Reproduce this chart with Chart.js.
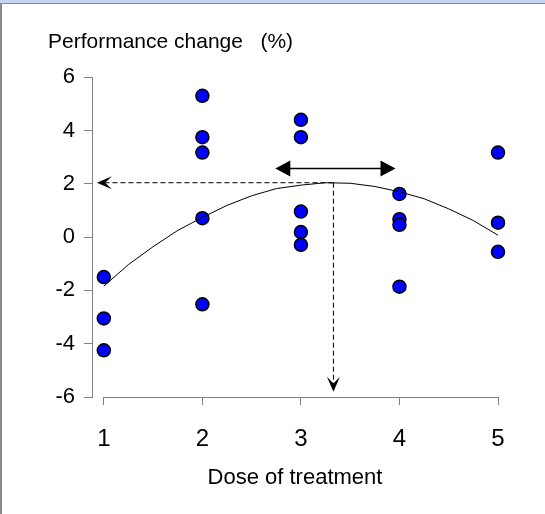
<!DOCTYPE html>
<html>
<head>
<meta charset="utf-8">
<script src="https://cdn.jsdelivr.net/npm/chart.js@4.4.0/dist/chart.umd.min.js"></script>
<style>
  body { margin: 0; background: #fff; }
  #band { position: absolute; left: 0; top: 0; width: 545px; height: 3px; background: #c8d2f2; }
  #topline { position: absolute; left: 0; top: 3px; width: 545px; height: 1px; background: #8a8a8a; }
  #leftline { position: absolute; left: 0; top: 4px; width: 2px; height: 510px; background: #8a8a8a; }
  #wrap { position: absolute; left: 0; top: 0; width: 545px; height: 514px; }
</style>
</head>
<body>
<div id="band"></div>
<div id="topline"></div>
<div id="leftline"></div>
<div id="wrap"><canvas id="myChart" width="545" height="514"></canvas></div>
<script>
'use strict';

// observed doses and performance changes (%)
var doses = [1, 1, 1, 2, 2, 2, 2, 2, 3, 3, 3, 3, 3, 4, 4, 4, 4, 5, 5, 5];
var changes = [-1.5, -3.05, -4.25, 5.3, 3.75, 3.17, 0.71, -2.52, 4.4, 3.75, 0.96, 0.19, -0.29, 1.62, 0.67, 0.46, -1.86, 3.17, 0.54, -0.55];

// fitted curve
var curveDose = [1, 1.25, 1.5, 1.75, 2, 2.25, 2.5, 2.75, 3, 3.25, 3.5, 3.75, 4, 4.25, 4.5, 4.75, 5];
var curveChange = [-1.84, -1.03, -0.36, 0.25, 0.74, 1.19, 1.55, 1.82, 1.95, 2.04, 2.02, 1.9, 1.7, 1.44, 1.06, 0.62, 0.07];

var xTicks = [1, 2, 3, 4, 5];
var yTicks = [-6, -4, -2, 0, 2, 4, 6];

// annotation anchors (data units)
var optimum = [3.33, 2.04];        // dose, change at peak
var guideEnd = [0.93, -5.8];       // left end of horizontal guide, bottom end of vertical guide
var rangeArrow = [2.74, 3.96, 2.57]; // from dose, to dose, level

var points = doses.map(function (d, i) { return { x: d, y: changes[i] }; });
var curve = curveDose.map(function (d, i) { return { x: d, y: curveChange[i] }; });

function arrowHead(c, x, y, angle, len, half, notch) {
  c.save();
  c.translate(x, y);
  c.rotate(angle);
  c.beginPath();
  c.moveTo(0, 0);
  c.lineTo(-len, -half);
  c.lineTo(-len * notch, 0);
  c.lineTo(-len, half);
  c.closePath();
  c.fillStyle = '#000';
  c.fill();
  c.restore();
}

var annotations = {
  id: 'annotations',
  beforeDatasetsDraw: function (chart) {
    var c = chart.ctx;
    var xs = chart.scales.x;
    var ys = chart.scales.y;
    var px = xs.getPixelForValue(optimum[0]);
    var py = ys.getPixelForValue(optimum[1]);
    var lx = xs.getPixelForValue(guideEnd[0]);
    var by = ys.getPixelForValue(guideEnd[1]);

    c.save();
    c.strokeStyle = '#000';
    c.lineWidth = 1;
    c.setLineDash([5, 3]);
    c.beginPath();
    c.moveTo(px, py);
    c.lineTo(lx + 6, py);
    c.moveTo(px, py);
    c.lineTo(px, by - 6);
    c.stroke();
    c.setLineDash([]);
    arrowHead(c, lx, py, Math.PI, 15, 6.5, 0.55);
    arrowHead(c, px, by, Math.PI / 2, 15, 6.5, 0.55);

    var ax1 = xs.getPixelForValue(rangeArrow[0]);
    var ax2 = xs.getPixelForValue(rangeArrow[1]);
    var ay = ys.getPixelForValue(rangeArrow[2]);
    c.lineWidth = 1.5;
    c.beginPath();
    c.moveTo(ax1 + 10, ay);
    c.lineTo(ax2 - 10, ay);
    c.stroke();
    arrowHead(c, ax1, ay, Math.PI, 15, 8, 1);
    arrowHead(c, ax2, ay, 0, 15, 8, 1);

    // x axis line only spans the dose range
    c.strokeStyle = '#808080';
    c.lineWidth = 1;
    c.beginPath();
    c.moveTo(xs.getPixelForValue(xTicks[0]), chart.chartArea.bottom + 0.5);
    c.lineTo(xs.getPixelForValue(xTicks[xTicks.length - 1]), chart.chartArea.bottom + 0.5);
    c.stroke();
    c.restore();
  }
};

var ctx = document.getElementById('myChart').getContext('2d');

var myChart = new Chart(ctx, {
  type: 'scatter',
  data: {
    datasets: [{
      label: 'Fitted',
      type: 'line',
      data: curve,
      borderColor: '#000',
      borderWidth: 1,
      pointRadius: 0,
      tension: 0,
      fill: false
    }, {
      label: 'Observed',
      data: points,
      backgroundColor: '#0000ff',
      borderColor: '#000',
      borderWidth: 1.5,
      pointRadius: 6.5,
      pointHoverRadius: 6.5,
      clip: false
    }]
  },
  options: {
    responsive: false,
    animation: false,
    events: [],
    layout: { padding: { left: 48, right: 47, top: 30, bottom: 0 } },
    plugins: {
      legend: { display: false },
      tooltip: { enabled: false },
      title: {
        display: true,
        text: 'Performance change   (%)',
        align: 'start',
        color: '#000',
        font: { family: '"Liberation Sans", Arial, sans-serif', size: 21, weight: 'normal' },
        padding: { top: 0, bottom: 22 }
      }
    },
    scales: {
      x: {
        type: 'linear',
        min: 0.88,
        max: 5,
        afterBuildTicks: function (scale) {
          scale.ticks = xTicks.map(function (v) { return { value: v }; });
        },
        afterFit: function (scale) { scale.height = 117; },
        ticks: {
          color: '#000',
          padding: 20,
          maxRotation: 0,
          font: { family: '"Liberation Sans", Arial, sans-serif', size: 24 }
        },
        grid: { drawOnChartArea: false, drawTicks: true, tickLength: 8, color: '#808080' },
        border: { display: false },
        title: {
          display: true,
          text: 'Dose of treatment',
          color: '#000',
          font: { family: '"Liberation Sans", Arial, sans-serif', size: 22 },
          padding: { top: 0, bottom: 23 }
        }
      },
      y: {
        min: -6,
        max: 6,
        afterBuildTicks: function (scale) {
          scale.ticks = yTicks.map(function (v) { return { value: v }; });
        },
        afterFit: function (scale) { scale.width = 44; },
        ticks: {
          color: '#000',
          padding: 9,
          font: { family: '"Liberation Sans", Arial, sans-serif', size: 22 }
        },
        grid: { drawOnChartArea: false, drawTicks: true, tickLength: 8, color: '#808080' },
        border: { display: true, color: '#808080', width: 1 }
      }
    }
  },
  plugins: [annotations]
});
</script>
</body>
</html>
